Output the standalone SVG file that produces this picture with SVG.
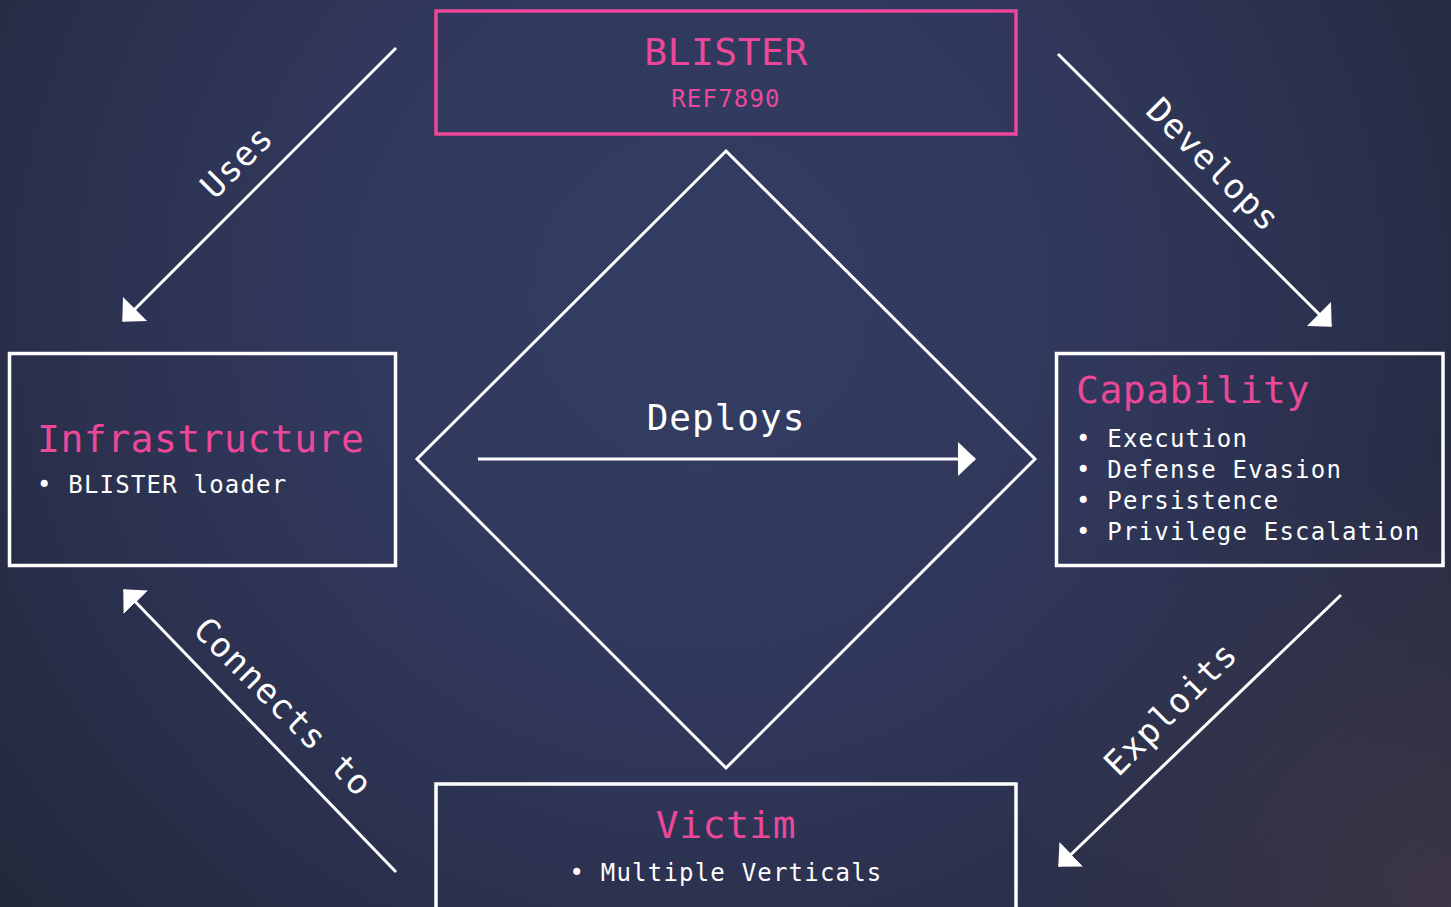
<svg xmlns="http://www.w3.org/2000/svg" width="1451" height="907" viewBox="0 0 1451 907">
  <defs>
    <radialGradient id="bg" cx="700" cy="300" r="950" gradientUnits="userSpaceOnUse">
      <stop offset="0" stop-color="#333d63"/>
      <stop offset="0.45" stop-color="#30375a"/>
      <stop offset="1" stop-color="#23273a"/>
    </radialGradient>
    <radialGradient id="tint" cx="1451" cy="907" r="450" gradientUnits="userSpaceOnUse">
      <stop offset="0" stop-color="#433a4a" stop-opacity="0.8"/>
      <stop offset="1" stop-color="#433a4a" stop-opacity="0"/>
    </radialGradient>
    <marker id="arrow" viewBox="0 -18 18 36" refX="17" refY="0" markerWidth="18" markerHeight="36" markerUnits="userSpaceOnUse" orient="auto">
      <path d="M0,-17 L18,0 L0,17 Z" fill="#ffffff"/>
    </marker>
    <style>
      .title { font-family: "DejaVu Sans Mono", "Liberation Mono", monospace; font-size: 38px; fill: #ec4899; letter-spacing: 0.5px; }
      .item { font-family: "DejaVu Sans Mono", "Liberation Mono", monospace; font-size: 24px; fill: #ffffff; letter-spacing: 1.2px; }
      .ref { font-family: "DejaVu Sans Mono", "Liberation Mono", monospace; font-size: 24px; fill: #ec4899; letter-spacing: 1.2px; }
      .label { font-family: "DejaVu Sans Mono", "Liberation Mono", monospace; font-size: 34px; fill: #ffffff; letter-spacing: 1px; }
      .box { fill: none; stroke: #ffffff; stroke-width: 3.5; }
      .pbox { fill: none; stroke: #ec4899; stroke-width: 3.5; }
      .edge { fill: none; stroke: #ffffff; stroke-width: 3; marker-end: url(#arrow); }
    </style>
  </defs>

  <rect x="0" y="0" width="1451" height="907" fill="url(#bg)"/>
  <rect x="0" y="0" width="1451" height="907" fill="url(#tint)"/>

  <g id="adversary">
    <rect class="pbox" x="436" y="11" width="580" height="123"/>
    <text class="title" x="726" y="65" text-anchor="middle">BLISTER</text>
    <text class="ref" x="726" y="107" text-anchor="middle">REF7890</text>
  </g>

  <g id="infrastructure">
    <rect class="box" x="9.5" y="353.5" width="386" height="212"/>
    <text class="title" x="37" y="452">Infrastructure</text>
    <text class="item" x="37" y="493">• BLISTER loader</text>
  </g>

  <g id="capability">
    <rect class="box" x="1056.5" y="353.5" width="386.5" height="212"/>
    <text class="title" x="1076" y="403">Capability</text>
    <text class="item" x="1076" y="447">• Execution</text>
    <text class="item" x="1076" y="478">• Defense Evasion</text>
    <text class="item" x="1076" y="509">• Persistence</text>
    <text class="item" x="1076" y="540">• Privilege Escalation</text>
  </g>

  <g id="victim">
    <rect class="box" x="436" y="784" width="580" height="135"/>
    <text class="title" x="726" y="838" text-anchor="middle">Victim</text>
    <text class="item" x="726" y="881" text-anchor="middle">• Multiple Verticals</text>
  </g>

  <g id="diamond">
    <polygon points="726,151 1035,459 726,768 417,459" fill="none" stroke="#ffffff" stroke-width="3"/>
  </g>

  <g id="connectors">
    <line class="edge" x1="396" y1="48" x2="123" y2="321"/>
    <text class="label" transform="translate(238,163) rotate(-45)" y="10" text-anchor="middle">Uses</text>

    <line class="edge" x1="1058" y1="54" x2="1331" y2="326"/>
    <text class="label" transform="translate(1212,166) rotate(45)" y="10" text-anchor="middle">Develops</text>

    <line class="edge" x1="396" y1="872" x2="124" y2="590"/>
    <text class="label" transform="translate(282,708) rotate(45)" y="10" text-anchor="middle">Connects to</text>

    <line class="edge" x1="1341" y1="595" x2="1059" y2="866"/>
    <text class="label" transform="translate(1172,710) rotate(-45)" y="10" text-anchor="middle">Exploits</text>

    <line class="edge" x1="478" y1="459" x2="975" y2="459"/>
    <text class="label" x="726" y="430" text-anchor="middle" style="font-size:36px">Deploys</text>
  </g>
</svg>
